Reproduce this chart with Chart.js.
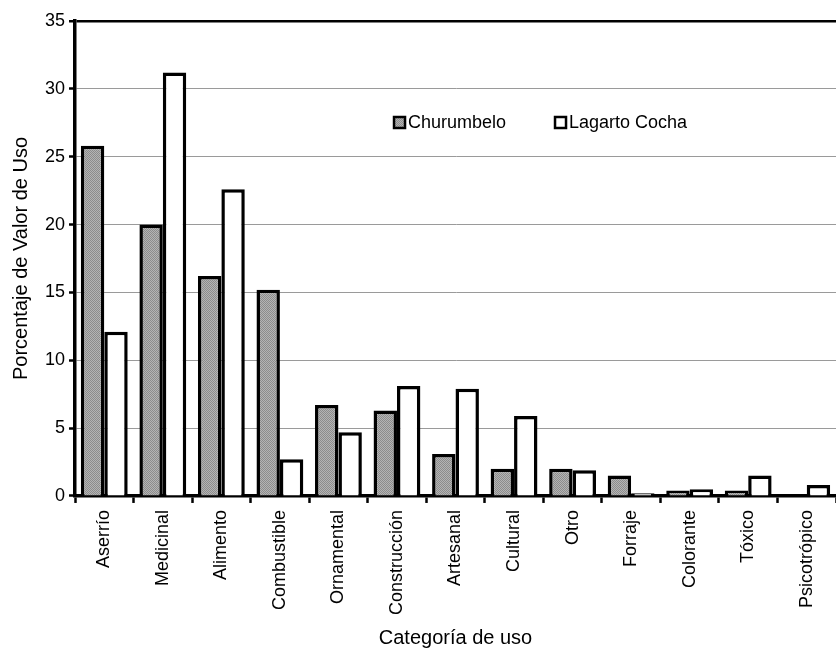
<!DOCTYPE html>
<html>
<head>
<meta charset="utf-8">
<script src="https://cdn.jsdelivr.net/npm/chart.js@4"></script>
<style>
  html, body { margin: 0; padding: 0; background: #fff; }
  #wrap { width: 836px; height: 650px; }
</style>
</head>
<body>
<div id="wrap"><canvas id="usoChart" width="836" height="650"></canvas></div>
<script>
const categorias = ["Aserrío", "Medicinal", "Alimento", "Combustible", "Ornamental", "Construcción",
    "Artesanal", "Cultural", "Otro", "Forraje", "Colorante", "Tóxico", "Psicotrópico"];
const churumbelo = [25.8, 20.0, 16.2, 15.2, 6.7, 6.3, 3.1, 2.0, 2.0, 1.5, 0.4, 0.4, 0];
const lagartoCocha = [12.1, 31.2, 22.6, 2.7, 4.7, 8.1, 7.9, 5.9, 1.9, 0.2, 0.5, 1.5, 0.8];
const yTicks = [0, 5, 10, 15, 20, 25, 30, 35];

const fontFam = "'Liberation Sans', Arial, sans-serif";

// stippled grey fill like the original print
function makeStipple() {
    const c = document.createElement("canvas");
    c.width = 2; c.height = 2;
    const g = c.getContext("2d");
    g.fillStyle = "#b4b4b4"; g.fillRect(0, 0, 2, 2);
    g.fillStyle = "#8c8c8c"; g.fillRect(0, 0, 1, 1); g.fillRect(1, 1, 1, 1);
    return g.createPattern(c, "repeat");
}
const stipple = makeStipple();

// legend drawn inside the plot area
const insideLegend = {
    id: "insideLegend",
    afterDraw(chart) {
        const ctx = chart.ctx;
        const area = chart.chartArea;
        const y = area.top + 101;
        const items = [
            { x: area.left + 319, fill: stipple, text: "Churumbelo" },
            { x: area.left + 480, fill: "#ffffff", text: "Lagarto Cocha" }
        ];
        ctx.save();
        ctx.font = "18px " + fontFam;
        ctx.textBaseline = "middle";
        items.forEach(it => {
            ctx.fillStyle = it.fill;
            ctx.fillRect(it.x, y - 5, 11, 11);
            ctx.lineWidth = 2.5;
            ctx.strokeStyle = "#000";
            ctx.strokeRect(it.x, y - 5, 11, 11);
            ctx.fillStyle = "#000";
            ctx.fillText(it.text, it.x + 14, y + 1);
        });
        ctx.restore();
    }
};

const ctx = document.getElementById("usoChart").getContext("2d");
new Chart(ctx, {
    type: "bar",
    data: {
        labels: categorias,
        datasets: [{
            label: "Churumbelo",
            data: churumbelo,
            backgroundColor: stipple,
            borderColor: "#000",
            borderWidth: 3.5
        }, {
            label: "Lagarto Cocha",
            data: lagartoCocha,
            backgroundColor: "#ffffff",
            borderColor: "#000",
            borderWidth: 3.5
        }]
    },
    options: {
        responsive: false,
        animation: false,
        layout: { padding: { top: 21, right: 0, left: 9, bottom: 0 } },
        plugins: {
            legend: { display: false },
            tooltip: { enabled: false }
        },
        datasets: { bar: { categoryPercentage: 0.8, barPercentage: 1.0 } },
        scales: {
            x: {
                grid: {
                    offset: true,
                    drawOnChartArea: false,
                    drawTicks: true,
                    tickLength: 7,
                    tickColor: "#000",
                    tickWidth: 2.5
                },
                border: { display: true, color: "#000", width: 3.5 },
                ticks: {
                    color: "#000",
                    minRotation: 90,
                    maxRotation: 90,
                    padding: 7,
                    font: { family: fontFam, size: 18 }
                },
                title: {
                    display: true,
                    text: "Categoría de uso",
                    color: "#000",
                    padding: { top: 4, bottom: 0 },
                    font: { family: fontFam, size: 20 }
                }
            },
            y: {
                min: 0,
                max: 35,
                afterBuildTicks(axis) {
                    axis.ticks = yTicks.map(v => ({ value: v }));
                },
                grid: {
                    color: c => c.tick && c.tick.value === 35 ? "#000" : "#9a9a9a",
                    lineWidth: c => c.tick && c.tick.value === 35 ? 2.5 : 1,
                    tickColor: "#000",
                    tickLength: 6,
                    tickWidth: 2.5
                },
                border: { display: true, color: "#000", width: 3.5 },
                ticks: {
                    color: "#000",
                    padding: 4,
                    font: { family: fontFam, size: 18 }
                },
                title: {
                    display: true,
                    text: "Porcentaje de Valor de Uso",
                    color: "#000",
                    padding: { top: 0, bottom: 8 },
                    font: { family: fontFam, size: 20 }
                }
            }
        }
    },
    plugins: [insideLegend]
});
</script>
</body>
</html>
